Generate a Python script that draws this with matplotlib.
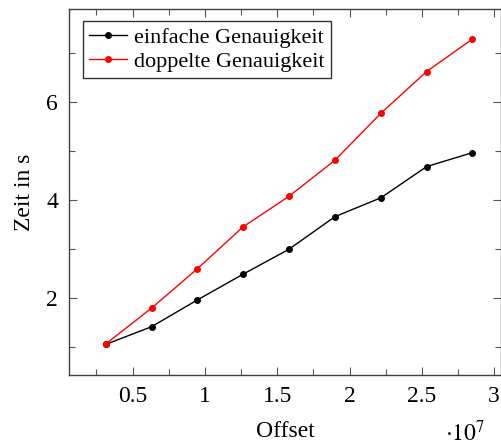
import matplotlib
matplotlib.use("Agg")
import matplotlib.pyplot as plt
from matplotlib.ticker import MultipleLocator, FuncFormatter

offset = [0.315, 0.631, 0.947, 1.263, 1.581, 1.899, 2.217, 2.533, 2.849]  # x 1e7
einfach = [1.06, 1.42, 1.965, 2.49, 3.0, 3.665, 4.05, 4.686, 4.97]
doppelt = [1.07, 1.80, 2.60, 3.455, 4.08, 4.816, 5.775, 6.625, 7.285]
xticks = [0.5, 1, 1.5, 2, 2.5, 3]
yticks = [2, 4, 6]

plt.rcParams['font.family'] = ['Liberation Serif', 'DejaVu Serif']
plt.rcParams['mathtext.fontset'] = 'stix'

fig = plt.figure(figsize=(5.02, 4.46), dpi=100)
ax = fig.add_axes([69/502, (446-375)/446, (501-69)/502, (375-9)/446])

ax.plot(offset, einfach, color='black', lw=1.0, marker='o', ms=4.0,
        label='einfache Genauigkeit')
ax.plot(offset, doppelt, color='red', lw=1.0, marker='o', ms=4.0,
        label='doppelte Genauigkeit')

ax.set_xlim(0.06, 3.047)
ax.set_ylim(0.435, 7.90)
ax.set_xticks(xticks)
ax.set_yticks(yticks)
ax.xaxis.set_major_formatter(FuncFormatter(lambda v, p: f'{v:g}'))
ax.xaxis.set_minor_locator(MultipleLocator(0.25))
ax.yaxis.set_minor_locator(MultipleLocator(1))
ax.tick_params(which='both', direction='in', top=True, right=True,
               color='#555555', labelsize=17, width=0.8)
ax.tick_params(which='major', length=6, pad=8)
ax.tick_params(which='minor', length=4)
for s in ax.spines.values():
    s.set_color('#404040')
    s.set_linewidth(1.0)

ax.set_xlabel('Offset', fontsize=17, labelpad=10)
ax.set_ylabel('Zeit in s', fontsize=17, labelpad=8)
fig.text(465/502, 1 - 433/446, r'$\cdot 10^{7}$', fontsize=17,
         ha='center', va='center')

leg = ax.legend(loc='upper left', fontsize=16, frameon=True, fancybox=False,
                edgecolor='black', borderpad=0.3, handlelength=1.7,
                handletextpad=0.3, labelspacing=0.15, borderaxespad=0,
                bbox_to_anchor=(0.032, 0.968))
leg.get_frame().set_linewidth(1.0)

fig.savefig('out.png', dpi=100)
